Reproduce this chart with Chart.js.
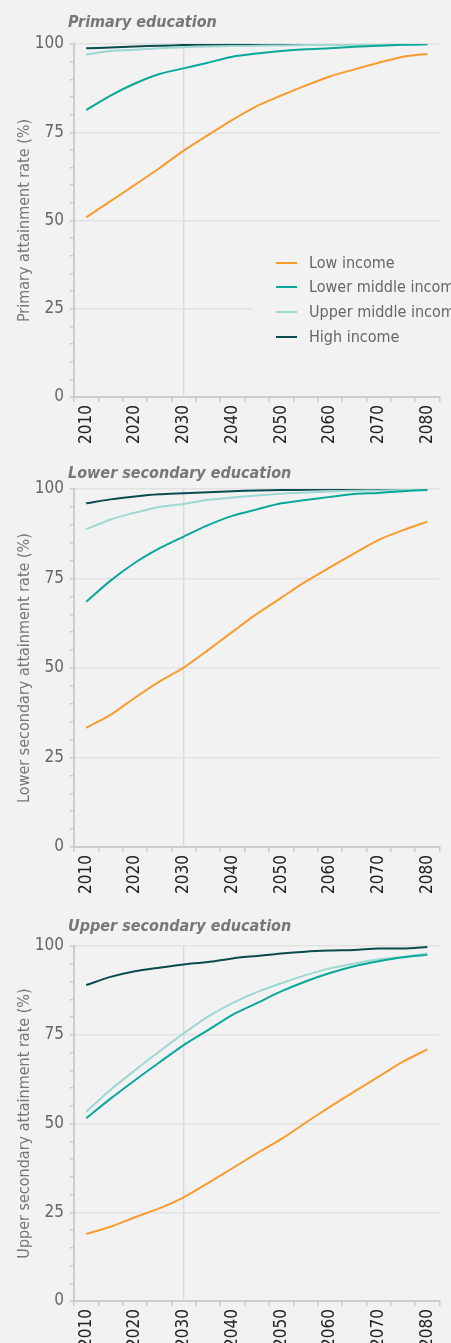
<!DOCTYPE html>
<html>
<head>
<meta charset="utf-8">
<script src="https://cdn.jsdelivr.net/npm/chart.js@4.4.1/dist/chart.umd.min.js"></script>
<style>
  html, body { margin: 0; padding: 0; background: #f2f2f2; }
  #wrap { position: relative; width: 451px; height: 1343px; overflow: hidden; }
  canvas { position: absolute; left: 0; }
</style>
</head>
<body>
<div id="wrap">
  <canvas id="primary" width="451" height="445" style="top:0px"></canvas>
  <canvas id="lowerSec" width="451" height="450" style="top:445px"></canvas>
  <canvas id="upperSec" width="451" height="448" style="top:895px"></canvas>
</div>
<script>
// categories
const years = ['2010', '2015', '2020', '2025', '2030', '2035', '2040', '2045',
  '2050', '2055', '2060', '2065', '2070', '2075', '2080'];
const seriesNames = ['Low income', 'Lower middle income', 'Upper middle income', 'High income'];
const seriesColors = ['#f89c2e', '#0aa89a', '#9dd8d2', '#0a4b50'];

// Primary education (%)
const primaryLow = [50.9, 55.5, 60.1, 64.8, 69.8, 74.2, 78.5, 82.4, 85.4, 88.2, 90.8, 92.8, 94.7, 96.4, 97.2];
const primaryLowerMiddle = [81.3, 85.4, 88.8, 91.5, 93.1, 94.7, 96.4, 97.3, 98.0, 98.5, 98.8, 99.2, 99.5, 99.8, 99.9];
const primaryUpperMiddle = [97.0, 98.0, 98.4, 98.8, 99.1, 99.3, 99.4, 99.5, 99.6, 99.7, 99.7, 99.8, 99.8, 99.9, 99.9];
const primaryHigh = [98.8, 99.0, 99.3, 99.5, 99.7, 99.8, 99.8, 99.9, 100, 100, 100, 100, 100, 100, 100];

// Lower secondary education (%)
const lowerSecLow = [33.3, 36.9, 41.7, 46.2, 50.1, 55.0, 60.1, 65.1, 69.6, 74.1, 78.1, 82.0, 85.8, 88.5, 90.9];
const lowerSecLowerMiddle = [68.5, 74.4, 79.4, 83.4, 86.7, 89.9, 92.5, 94.3, 96.0, 96.9, 97.8, 98.6, 98.9, 99.4, 99.7];
const lowerSecUpperMiddle = [88.8, 91.5, 93.4, 95.0, 95.8, 97.0, 97.6, 98.2, 98.7, 99.0, 99.3, 99.5, 99.6, 99.7, 99.8];
const lowerSecHigh = [96.0, 97.1, 97.9, 98.5, 98.8, 99.1, 99.4, 99.6, 99.7, 99.8, 99.9, 99.9, 99.9, 100, 100];

// Upper secondary education (%)
const upperSecLow = [18.9, 20.9, 23.6, 26.1, 29.2, 33.2, 37.4, 41.6, 45.6, 50.2, 54.7, 59.0, 63.2, 67.4, 70.9];
const upperSecLowerMiddle = [51.5, 57.0, 62.2, 67.2, 72.1, 76.3, 80.6, 83.9, 87.2, 90.0, 92.4, 94.3, 95.7, 96.8, 97.5];
const upperSecUpperMiddle = [53.3, 59.5, 65.0, 70.3, 75.4, 80.1, 83.9, 87.0, 89.5, 91.8, 93.7, 95.1, 96.3, 97.0, 97.9];
const upperSecHigh = [89.0, 91.3, 92.9, 93.9, 94.8, 95.5, 96.5, 97.2, 97.9, 98.4, 98.7, 98.9, 99.3, 99.3, 99.7];

const FONT = "'Liberation Sans Narrow', 'DejaVu Sans Condensed', 'Roboto', sans-serif";
const AXIS_COLOR = '#cccccc';
const GRID_COLOR = '#e2e2e2';
const MARK_YEAR = '2030';

// title, 2030 reference line and (optionally) legend
const panelDecor = {
  id: 'panelDecor',
  beforeDatasetsDraw(chart, args, opts) {
    const {ctx, chartArea, scales} = chart;
    const x = scales.x.getPixelForValue(years.indexOf(MARK_YEAR));
    ctx.save();
    ctx.strokeStyle = '#dadada';
    ctx.lineWidth = 1.5;
    ctx.beginPath();
    ctx.moveTo(x, chartArea.top);
    ctx.lineTo(x, chartArea.bottom);
    ctx.stroke();
    ctx.restore();
  },
  afterDatasetsDraw(chart, args, opts) {
    const {ctx} = chart;
    ctx.save();
    ctx.font = 'italic bold 16px ' + FONT;
    ctx.fillStyle = '#777777';
    ctx.textBaseline = 'middle';
    ctx.textAlign = 'left';
    ctx.fillText(opts.title, 68, opts.titleY);

    if (opts.legend) {
      ctx.fillStyle = '#f2f2f2';
      ctx.fillRect(253, 250, 200, 100);
      ctx.font = '16px ' + FONT;
      const rows = [263, 287, 312, 337];
      chart.data.datasets.forEach((ds, i) => {
        ctx.strokeStyle = ds.borderColor;
        ctx.lineWidth = 2;
        ctx.beginPath();
        ctx.moveTo(276, rows[i]);
        ctx.lineTo(297, rows[i]);
        ctx.stroke();
        ctx.fillStyle = '#666666';
        ctx.fillText(ds.label, 309, rows[i] + 1);
      });
    }
    ctx.restore();
  }
};

function makePanel(id, title, titleY, yTitle, padTop, xHeight, values, legend) {
  new Chart(document.getElementById(id), {
    type: 'line',
    data: {
      labels: years,
      datasets: values.map((v, i) => ({
        label: seriesNames[i],
        data: v,
        borderColor: seriesColors[i],
        backgroundColor: seriesColors[i],
        borderWidth: 2,
        pointRadius: 0,
        tension: 0.25,
        fill: false
      }))
    },
    options: {
      responsive: false,
      animation: false,
      layout: {padding: {top: padTop, left: 0, right: 7, bottom: 0}},
      plugins: {
        legend: {display: false},
        tooltip: {enabled: false},
        panelDecor: {title: title, titleY: titleY, legend: legend}
      },
      scales: {
        x: {
          type: 'category',
          offset: true,
          grid: {offset: true, drawOnChartArea: false, color: AXIS_COLOR, tickLength: 5, lineWidth: 1.5},
          border: {color: AXIS_COLOR, width: 2},
          ticks: {
            autoSkip: false,
            maxRotation: 90,
            minRotation: 90,
            padding: 3,
            color: '#222222',
            font: {family: FONT, size: 17},
            callback: (v, i) => (i % 2 === 0 ? years[i] : '')
          },
          afterFit: s => { s.height = xHeight; }
        },
        y: {
          min: 0,
          max: 100,
          grid: {
            color: c => (c.tick && c.tick.value % 25 === 0 ? GRID_COLOR : 'rgba(0,0,0,0)'),
            tickColor: AXIS_COLOR,
            tickLength: 4,
            lineWidth: 1.5
          },
          border: {color: AXIS_COLOR, width: 2},
          ticks: {
            autoSkip: false,
            stepSize: 5,
            padding: 6,
            color: '#666666',
            font: {family: FONT, size: 17},
            callback: v => (v % 25 === 0 ? v : '')
          },
          title: {
            display: true,
            text: yTitle,
            color: '#777777',
            font: {family: FONT, size: 16},
            padding: {top: 15, bottom: 0}
          },
          afterFit: s => { s.width = 74; }
        }
      }
    },
    plugins: [panelDecor]
  });
}

makePanel('primary', 'Primary education', 23, 'Primary attainment rate (%)', 44, 48,
  [primaryLow, primaryLowerMiddle, primaryUpperMiddle, primaryHigh], true);
makePanel('lowerSec', 'Lower secondary education', 29, 'Lower secondary attainment rate (%)', 44, 48,
  [lowerSecLow, lowerSecLowerMiddle, lowerSecUpperMiddle, lowerSecHigh], false);
makePanel('upperSec', 'Upper secondary education', 32, 'Upper secondary attainment rate (%)', 51, 42,
  [upperSecLow, upperSecLowerMiddle, upperSecUpperMiddle, upperSecHigh], false);
</script>
</body>
</html>
